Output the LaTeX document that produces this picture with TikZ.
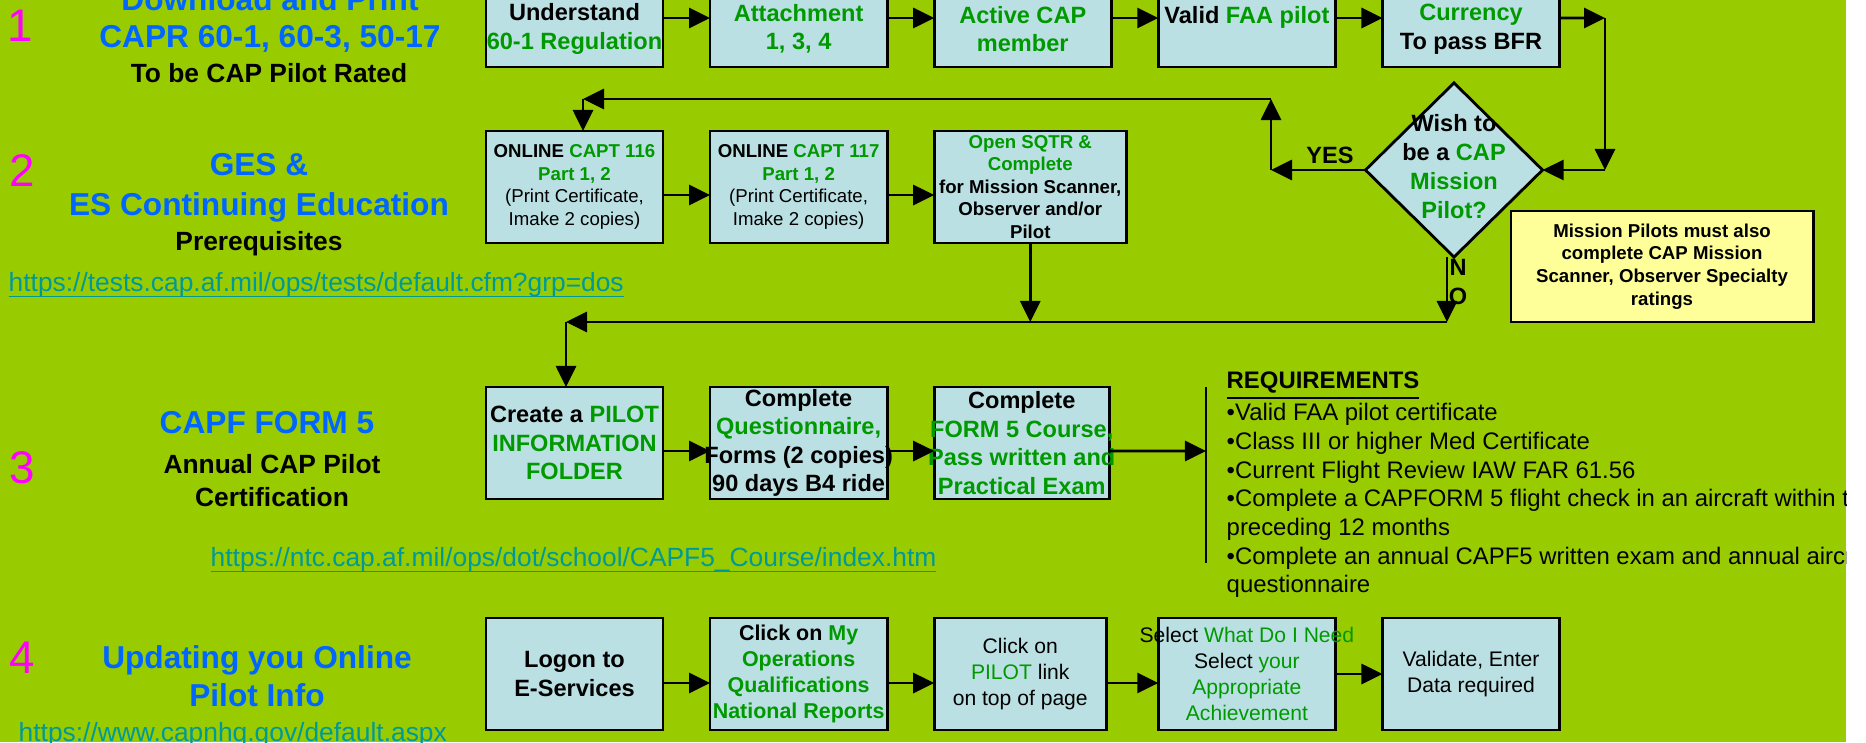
\documentclass[tikz,border=0pt]{standalone}
\usepackage{fontspec}
\setmainfont{Liberation Sans}
\usetikzlibrary{positioning, shapes.geometric, arrows.meta}
\definecolor{bggreen}{RGB}{153,204,0}
\definecolor{boxblue}{RGB}{187,224,227}
\definecolor{titleblue}{RGB}{0,102,255}
\definecolor{capgreen}{RGB}{0,153,0}
\definecolor{linkteal}{RGB}{0,153,153}
\definecolor{noteyellow}{RGB}{255,255,153}
\definecolor{numpink}{RGB}{255,0,255}
\newcommand{\gtx}[1]{\textcolor{capgreen}{#1}}
\newcommand{\wideline}[1]{\makebox[0pt]{#1}}
\newcommand{\linkline}[1]{\underline{\smash{#1}}}

\begin{document}
\begin{tikzpicture}[x=0.01cm, y=-0.01cm,
    boxnode/.style={rectangle, draw=black, line width=0.8pt, fill=boxblue, minimum width=1.77cm, minimum height=1.12cm, inner sep=0pt, outer sep=0pt, align=center, font=\fontsize{6.7}{8.1}\selectfont\bfseries},
    topbox/.style={boxnode, minimum height=0.76cm},
    smallbox/.style={boxnode, font=\fontsize{5.3}{6.4}\selectfont\bfseries},
    menubox/.style={boxnode, font=\fontsize{6.1}{7.4}\selectfont\bfseries},
    plainbox/.style={boxnode, font=\fontsize{6}{7.4}\selectfont},
    diamondnode/.style={diamond, draw=black, line width=0.8pt, fill=boxblue, minimum width=1.77cm, minimum height=1.74cm, inner sep=0pt, outer sep=0pt},
    notenode/.style={rectangle, draw=black, line width=0.8pt, fill=noteyellow, minimum width=3.02cm, minimum height=1.11cm, inner sep=0pt, align=center, font=\fontsize{5.3}{6.45}\selectfont\bfseries},
    labelnode/.style={inner sep=0pt, align=center, font=\fontsize{6.7}{8.25}\selectfont\bfseries},
    headnode/.style={inner sep=0pt, align=center, text=titleblue, font=\fontsize{9}{10.4}\selectfont\bfseries},
    subnode/.style={inner sep=0pt, align=center, font=\fontsize{7.5}{9.4}\selectfont\bfseries},
    numnode/.style={inner sep=0pt, text=numpink, font=\fontsize{13}{15}\selectfont},
    linknode/.style={inner sep=0pt, text=linkteal, font=\fontsize{7.5}{9}\selectfont},
    reqnode/.style={inner sep=0pt, align=left, font=\fontsize{6.8}{8.15}\selectfont},
    arr/.style={-{Triangle[length=0.21cm, width=0.2cm]}, line width=0.8pt}]

    \useasboundingbox (0,0) rectangle (1866,742);
    \fill[white] (0,0) rectangle (1866,742);
    \fill[bggreen] (0,0) rectangle (1846,742);
    \clip (0,0) rectangle (1846,742);

    \node[numnode] (num1) at (20,26) {1};
    \node[headnode] (t1) at (270,20) {Download and Print\\CAPR 60-1, 60-3, 50-17};
    \node[subnode] (s1) at (269,73) {To be CAP Pilot Rated};

    \node[numnode] (num2) at (22,171) {2};
    \node[headnode, font=\fontsize{9}{11.4}\selectfont\bfseries] (t2) at (259,188) {GES \&\\ES Continuing Education};
    \node[subnode] (s2) at (259,244) {Prerequisites};
    \node[linknode, anchor=base west] (l2) at (8,291.5) {\linkline{https://tests.cap.af.mil/ops/tests/default.cfm?grp=dos}};

    \node[numnode] (num3) at (22,468) {3};
    \node[headnode] (t3) at (267,423) {CAPF FORM 5};
    \node[subnode] (s3) at (272,481) {Annual CAP Pilot\\Certification};
    \node[linknode, anchor=base west] (l3) at (210,566.5) {\linkline{https://ntc.cap.af.mil/ops/dot/school/CAPF5\_Course/index.htm}};

    \node[numnode] (num4) at (22,658) {4};
    \node[headnode, font=\fontsize{9}{10.8}\selectfont\bfseries] (t4) at (257,676) {Updating you Online\\Pilot Info};
    \node[linknode, anchor=base west] (l4) at (18,741.5) {\linkline{https://www.capnhq.gov/default.aspx}};

    \node[topbox] (11) at (574.5,29) {Understand\\\gtx{60-1 Regulation}};
    \node[topbox] (12) [right=0.47cm of 11] {\gtx{Attachment}\\\gtx{1, 3, 4}};
    \node[topbox] (13) [right=0.47cm of 12] {\gtx{Active CAP}\\\gtx{member}};
    \node[topbox] (14) [right=0.47cm of 13] {Valid \gtx{FAA pilot}\\\mbox{}};
    \node[topbox] (15) [right=0.47cm of 14] {\gtx{Currency}\\To pass BFR};

    \node[smallbox] (21) at (574.5,187) {ONLINE \gtx{CAPT 116}\\\gtx{Part 1, 2}\\{\mdseries (Print Certificate,}\\{\mdseries Imake 2 copies)}};
    \node[smallbox] (22) [right=0.47cm of 21] {ONLINE \gtx{CAPT 117}\\\gtx{Part 1, 2}\\{\mdseries (Print Certificate,}\\{\mdseries Imake 2 copies)}};
    \node[smallbox, minimum width=1.92cm] (23) [right=0.47cm of 22] {\gtx{Open SQTR \&}\\\gtx{Complete}\\for Mission Scanner,\\Observer and/or\\Pilot};

    \node[diamondnode] (d1) at (1454,170) {};
    \node[labelnode] (d1t) at (1454,167) {Wish to\\be a \gtx{CAP}\\\gtx{Mission}\\\gtx{Pilot?}};
    \node[labelnode] (yes) at (1330,155) {YES};
    \node[labelnode, font=\fontsize{6.7}{8.5}\selectfont\bfseries] (no) at (1458,282) {N\\O};
    \node[notenode] (m1) at (1662,266.5) {Mission Pilots must also\\complete CAP Mission\\Scanner, Observer Specialty\\ratings};

    \node[boxnode] (31) at (574.5,443) {Create a \gtx{PILOT}\\\gtx{INFORMATION}\\\gtx{FOLDER}};
    \node[boxnode] (32) [right=0.47cm of 31] {Complete\\\gtx{Questionnaire,}\\\wideline{Forms (2 copies)}\\90 days B4 ride};
    \node[boxnode, minimum width=1.75cm] (33) [right=0.47cm of 32] {Complete\\\wideline{\gtx{FORM 5 Course,}}\\\wideline{\gtx{Pass written and}}\\\gtx{Practical Exam}};
    \node[reqnode, anchor=north west] (req) at (1226,371) {\textbf{\underline{REQUIREMENTS}}\\•Valid FAA pilot certificate\\•Class III or higher Med Certificate\\•Current Flight Review IAW FAR 61.56\\•Complete a CAPFORM 5 flight check in an aircraft within the\\preceding 12 months\\•Complete an annual CAPF5 written exam and annual aircraft\\questionnaire};

    \node[boxnode] (41) at (574.5,674) {Logon to\\E-Services};
    \node[menubox] (42) [right=0.47cm of 41] {Click on \gtx{My}\\\gtx{Operations}\\\gtx{Qualifications}\\\gtx{National Reports}};
    \node[plainbox, minimum width=1.72cm] (43) [right=0.47cm of 42] {Click on\\\gtx{PILOT} link\\on top of page};
    \node[plainbox] (44) [right=0.52cm of 43] {\wideline{Select \gtx{What Do I Need}}\\Select \gtx{your}\\\gtx{Appropriate}\\\gtx{Achievement}};
    \node[plainbox] (45) [right=0.47cm of 44] {Validate, Enter\\Data required};

    \coordinate (c1) at (1605,18);
    \coordinate (c2) at (1605,170);
    \coordinate (y1) at (1271,170);
    \coordinate (y2) at (1271,99);
    \coordinate (y3) at (583,99);
    \coordinate (o1) at (1447,322);
    \coordinate (o2) at (566,322);
    \coordinate (rq) at (1206,451);
    \coordinate (rq1) at (1206,387);
    \coordinate (rq2) at (1206,563);

    \draw[arr] ([yshift=0.11cm]11.east) -- ([yshift=0.11cm]12.west);
    \draw[arr] ([yshift=0.11cm]12.east) -- ([yshift=0.11cm]13.west);
    \draw[arr] ([yshift=0.11cm]13.east) -- ([yshift=0.11cm]14.west);
    \draw[arr] ([yshift=0.11cm]14.east) -- ([yshift=0.11cm]15.west);
    \draw[arr] ([yshift=0.11cm]15.east) -- (c1);
    \draw[arr] (c1) -- (c2);
    \draw[arr] (c2) -- (d1.east);
    \draw[arr] (d1.west) -- (y1);
    \draw[arr] (y1) -- (y2);
    \draw[arr] (y2) -- (y3);
    \draw[arr] (y3) -- (y3 |- 21.north);

    \draw[arr] ([yshift=-0.08cm]21.east) -- ([yshift=-0.08cm]22.west);
    \draw[arr] ([yshift=-0.08cm]22.east) -- ([yshift=-0.08cm]23.west);
    \draw[arr] (23.south) -- (23.south |- o2);
    \draw[arr] (o1 |- d1.south) -- (o1);
    \draw[arr] (o1) -- (o2);
    \draw[arr] (o2) -- (o2 |- 31.north);

    \draw[arr] ([yshift=-0.08cm]31.east) -- ([yshift=-0.08cm]32.west);
    \draw[arr] ([yshift=-0.08cm]32.east) -- ([yshift=-0.08cm]33.west);
    \draw[arr] ([yshift=-0.08cm]33.east) -- (rq);
    \draw[line width=0.8pt] (rq1) -- (rq2);

    \draw[arr] ([yshift=-0.09cm]41.east) -- ([yshift=-0.09cm]42.west);
    \draw[arr] ([yshift=-0.09cm]42.east) -- ([yshift=-0.09cm]43.west);
    \draw[arr] ([yshift=-0.09cm]43.east) -- ([yshift=-0.09cm]44.west);
    \draw[arr] (44.east) -- (45.west);

\end{tikzpicture}
\end{document}
